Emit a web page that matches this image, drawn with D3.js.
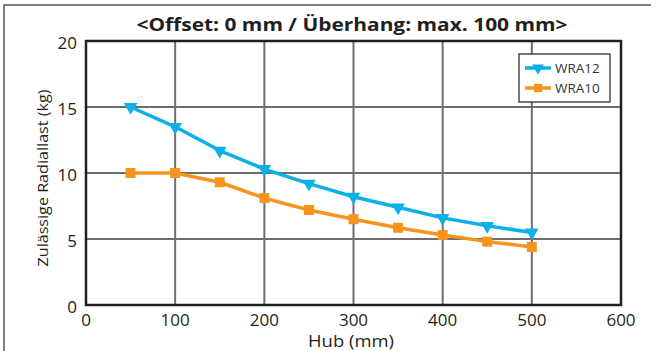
<!DOCTYPE html>
<html><head><meta charset="utf-8">
<script src="https://cdn.jsdelivr.net/npm/d3@7"></script>
<style>body{margin:0;background:#fff}svg{display:block}text{font-family:"Open Sans","Noto Sans",sans-serif;fill:#231f20}</style>
</head><body><svg id="c" width="651" height="351"></svg>
<script>
const hub = [50,100,150,200,250,300,350,400,450,500];
const wra12 = [15.0,13.5,11.7,10.3,9.2,8.2,7.4,6.6,6.0,5.5];
const wra10 = [10.0,10.0,9.3,8.1,7.2,6.5,5.85,5.3,4.8,4.4];
const xTicks = [0,100,200,300,400,500,600];
const yTicks = [0,5,10,15,20];
const seriesNames = ["WRA12","WRA10"];
const title = "<Offset: 0 mm / Überhang: max. 100 mm>";
const xLabel = "Hub (mm)";
const yLabel = "Zulässige Radiallast (kg)";

const svg = d3.select("#c");
const L=86,R=621,T=41,B=305;
const x = d3.scaleLinear().domain([0,600]).range([L,R]);
const y = d3.scaleLinear().domain([0,20]).range([B,T]);

// outer frame
svg.append("path").attr("d","M4,351V5H651").attr("fill","none").attr("stroke","#555").attr("stroke-width",1.5);

// grid
svg.append("g").selectAll("line").data(xTicks.slice(1,-1)).join("line")
 .attr("x1",d=>x(d)).attr("x2",d=>x(d)).attr("y1",T).attr("y2",B)
 .attr("stroke","#6d6e71").attr("stroke-width",2);
svg.append("g").selectAll("line").data(yTicks.slice(1,-1)).join("line")
 .attr("y1",d=>y(d)).attr("y2",d=>y(d)).attr("x1",L).attr("x2",R)
 .attr("stroke","#6d6e71").attr("stroke-width",2);
svg.append("rect").attr("x",L).attr("y",T).attr("width",R-L).attr("height",B-T)
 .attr("fill","none").attr("stroke","#231f20").attr("stroke-width",2.5);

// tick labels
svg.append("g").selectAll("text").data(xTicks).join("text")
 .attr("x",d=>x(d)).attr("y",B+21).attr("text-anchor","middle")
 .style("font-size","17px").text(d=>d);
svg.append("g").selectAll("text").data(yTicks).join("text")
 .attr("x",L-9).attr("y",d=>y(d)+8).attr("text-anchor","end")
 .style("font-size","17px").text(d=>d);

// titles
svg.append("text").attr("x",352).attr("y",31).attr("text-anchor","middle")
 .style("font-size","18px").style("font-weight","bold").attr("textLength",431).attr("lengthAdjust","spacingAndGlyphs").text(title);
svg.append("text").attr("x",351).attr("y",347).attr("text-anchor","middle")
 .style("font-size","16.5px").attr("textLength",86).attr("lengthAdjust","spacingAndGlyphs").text(xLabel);
svg.append("text").attr("transform","translate(48,178) rotate(-90)").attr("text-anchor","middle")
 .style("font-size","15px").attr("textLength",177).attr("lengthAdjust","spacingAndGlyphs").text(yLabel);

const colors = ["#0ab0e6","#f7941d"];
const tri = d3.symbol().type(d3.symbolTriangle).size(80);
const sq = d3.symbol().type(d3.symbolSquare).size(100);
const data = [wra12, wra10];
const line = d3.line().x((d,i)=>x(hub[i])).y(d=>y(d));
data.forEach((vals,k)=>{
  svg.append("path").attr("d",line(vals)).attr("fill","none").attr("stroke",colors[k]).attr("stroke-width",3.5).attr("stroke-linejoin","round");
  svg.append("g").selectAll("path").data(vals).join("path")
   .attr("d",k===0?tri:sq)
   .attr("transform",(d,i)=>`translate(${x(hub[i])},${y(d)})`+(k===0?" rotate(180)":""))
   .attr("fill",colors[k]);
});

// legend
const lg = svg.append("g");
lg.append("rect").attr("x",519).attr("y",54).attr("width",91).attr("height",48).attr("fill","#fff").attr("stroke","#231f20").attr("stroke-width",1.2);
seriesNames.forEach((n,k)=>{
  const yy = 68+k*20;
  lg.append("line").attr("x1",525).attr("x2",551).attr("y1",yy).attr("y2",yy).attr("stroke",colors[k]).attr("stroke-width",3.5);
  lg.append("path").attr("d",k===0?d3.symbol().type(d3.symbolTriangle).size(60)():d3.symbol().type(d3.symbolSquare).size(70)())
   .attr("transform",`translate(538,${yy})`+(k===0?" rotate(180)":"")).attr("fill",colors[k]);
  lg.append("text").attr("x",555).attr("y",yy+5).style("font-size","13.5px").style("fill","#333").text(n);
});
</script></body></html>
